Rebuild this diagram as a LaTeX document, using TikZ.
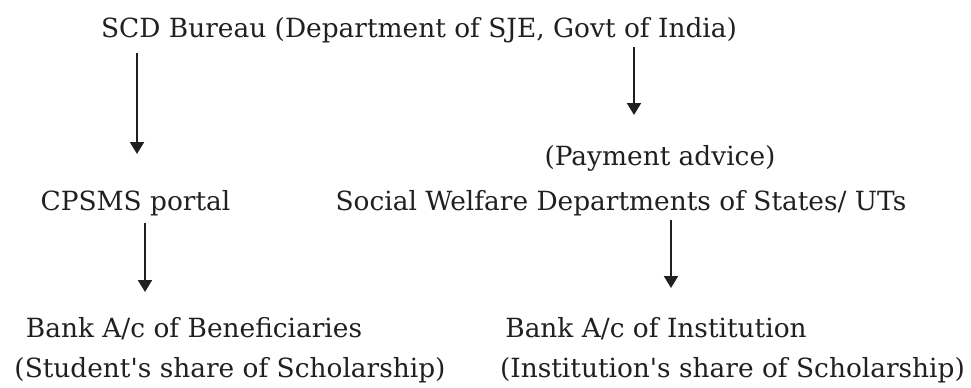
\documentclass[tikz,border=0pt]{standalone}
\usepackage{fontspec}
\setmainfont{DejaVu Serif}[Ligatures=TeXOff]
\usetikzlibrary{arrows.meta}
\definecolor{ink}{RGB}{35,31,32}
\begin{document}
\begin{tikzpicture}[x=0.75pt,y=-0.75pt,
  lbl/.style={anchor=base,inner sep=0pt,outer sep=0pt,text=ink,font=\fontsize{19.8pt}{24pt}\selectfont},
  flow/.style={draw=ink,line width=1.5pt,-{Triangle[width=10.5pt,length=9pt]}}]
\useasboundingbox (0,0) rectangle (971,387);
\node[lbl] (scd) at (419,37) {SCD Bureau (Department of SJE, Govt of India)};
\node[lbl] (pay) at (660,165) {(Payment advice)};
\node[lbl] (cps) at (135.5,210) {CPSMS portal};
\node[lbl] (swd) at (621,210) {Social Welfare Departments of States/ UTs};
\node[lbl] (bb) at (194,337) {Bank A/c of Beneficiaries};
\node[lbl] (ss) at (230,377) {(Student's share of Scholarship)};
\node[lbl] (bi) at (656,337) {Bank A/c of Institution};
\node[lbl] (is) at (732.5,377) {(Institution's share of Scholarship)};
\coordinate (a1s) at (137,53);  \coordinate (a1e) at (137,154);
\coordinate (a2s) at (634,47);  \coordinate (a2e) at (634,115);
\coordinate (a3s) at (145,223); \coordinate (a3e) at (145,292);
\coordinate (a4s) at (671,220); \coordinate (a4e) at (671,288);
\draw[flow] (a1s) -- (a1e);
\draw[flow] (a2s) -- (a2e);
\draw[flow] (a3s) -- (a3e);
\draw[flow] (a4s) -- (a4e);
\end{tikzpicture}
\end{document}
